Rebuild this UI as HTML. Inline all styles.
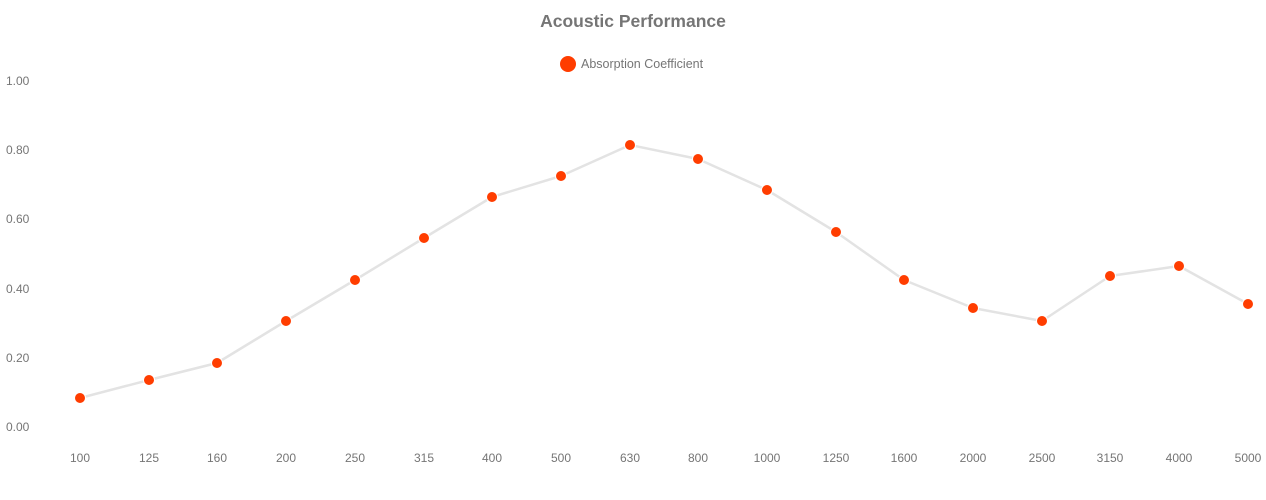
<!DOCTYPE html>
<html><head><meta charset="utf-8"><style>
html,body{margin:0;padding:0;background:#fff;}
svg{display:block;font-family:"Liberation Sans",sans-serif;}
</style></head><body>
<svg width="1266" height="500" viewBox="0 0 1266 500">
<text x="633" y="27" text-anchor="middle" font-size="17.5" font-weight="bold" fill="#757575">Acoustic Performance</text>
<circle cx="568" cy="64" r="8" fill="#ff3d00"/>
<text x="581" y="68" font-size="12.5" fill="#757575">Absorption Coefficient</text>
<g font-size="12" fill="#757575" text-anchor="start">
<text x="6" y="85">1.00</text>
<text x="6" y="154">0.80</text>
<text x="6" y="223">0.60</text>
<text x="6" y="293">0.40</text>
<text x="6" y="362">0.20</text>
<text x="6" y="431">0.00</text>
</g>
<g font-size="12" fill="#757575" text-anchor="middle">
<text x="80" y="462">100</text><text x="149" y="462">125</text><text x="217" y="462">160</text><text x="286" y="462">200</text><text x="355" y="462">250</text><text x="424" y="462">315</text><text x="492" y="462">400</text><text x="561" y="462">500</text><text x="630" y="462">630</text><text x="698" y="462">800</text><text x="767" y="462">1000</text><text x="836" y="462">1250</text><text x="904" y="462">1600</text><text x="973" y="462">2000</text><text x="1042" y="462">2500</text><text x="1110" y="462">3150</text><text x="1179" y="462">4000</text><text x="1248" y="462">5000</text>
</g>
<polyline points="80,398 149,380 217,363 286,321 355,280 424,238 492,197 561,176 630,145 698,159 767,190 836,232 904,280 973,308 1042,321 1110,276 1179,266 1248,304" fill="none" stroke="#e3e3e3" stroke-width="2.5" stroke-linejoin="round"/>
<g fill="#ff3d00" stroke="#fff" stroke-width="1">
<circle cx="80" cy="398" r="5.5"/><circle cx="149" cy="380" r="5.5"/><circle cx="217" cy="363" r="5.5"/><circle cx="286" cy="321" r="5.5"/><circle cx="355" cy="280" r="5.5"/><circle cx="424" cy="238" r="5.5"/><circle cx="492" cy="197" r="5.5"/><circle cx="561" cy="176" r="5.5"/><circle cx="630" cy="145" r="5.5"/><circle cx="698" cy="159" r="5.5"/><circle cx="767" cy="190" r="5.5"/><circle cx="836" cy="232" r="5.5"/><circle cx="904" cy="280" r="5.5"/><circle cx="973" cy="308" r="5.5"/><circle cx="1042" cy="321" r="5.5"/><circle cx="1110" cy="276" r="5.5"/><circle cx="1179" cy="266" r="5.5"/><circle cx="1248" cy="304" r="5.5"/>
</g>
</svg>
</body></html>
